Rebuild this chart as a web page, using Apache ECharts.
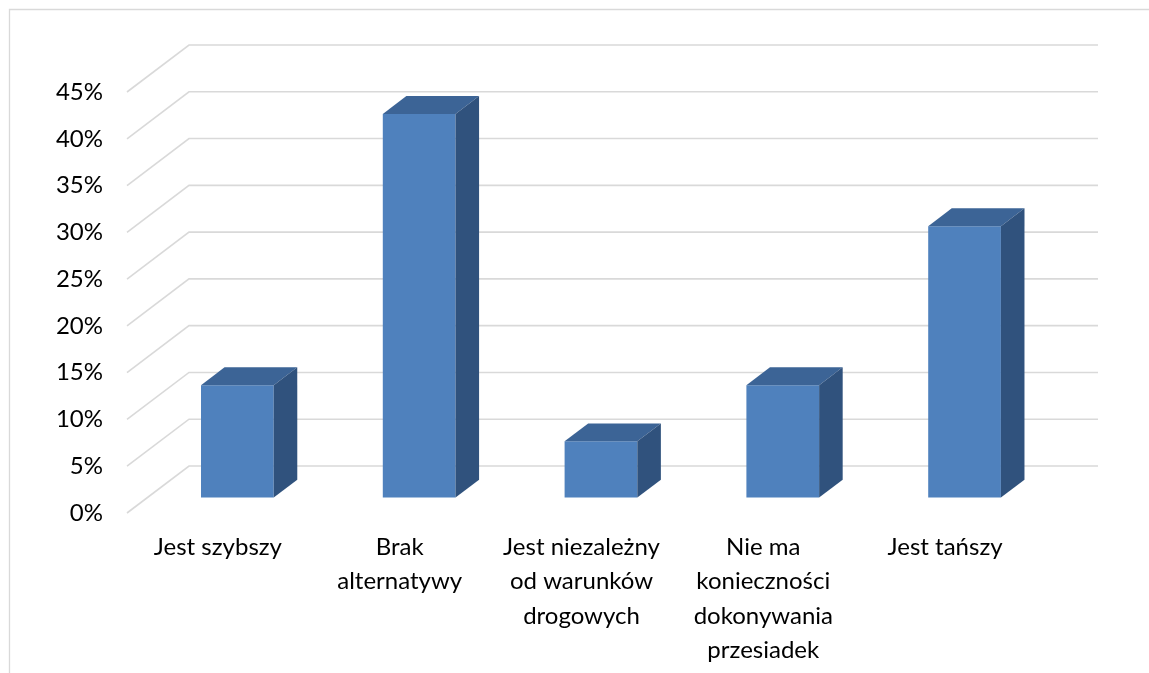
<!DOCTYPE html>
<html>
<head>
<meta charset="utf-8">
<script src="https://cdn.jsdelivr.net/npm/echarts@6/dist/echarts.min.js"></script>
<style>
  html, body { margin: 0; padding: 0; background: #fff; }
  #chart { width: 1149px; height: 673px; }
</style>
</head>
<body>
<div id="chart"></div>
<script>
// Categories and shares (percent)
const categories = [
  'Jest szybszy',
  'Brak\nalternatywy',
  'Jest niezależny\nod warunków\ndrogowych',
  'Nie ma\nkonieczności\ndokonywania\nprzesiadek',
  'Jest tańszy'
];
const values = [12, 41, 6, 12, 29];
const yTicks = [0, 5, 10, 15, 20, 25, 30, 35, 40, 45];

// Oblique projection of the depth axis (pixels for the full floor depth)
const DEPTH_X = 62;
const DEPTH_Y = 47;
const BAR_FRONT = 0.33;   // bar front face, fraction of depth
const BAR_BACK = 0.71;    // bar back face, fraction of depth
const BAR_WIDTH = 0.40;   // fraction of category band

const FONT = 'Lato, "Open Sans", sans-serif';

const chart = echarts.init(document.getElementById('chart'));

function renderWall(params, api) {
  const cs = params.coordSys;
  const y = api.coord([0, api.value(1)])[1];
  const x0 = cs.x;
  const x1 = cs.x + cs.width;
  return {
    type: 'polyline',
    shape: {
      points: [
        [x0, y],
        [x0 + DEPTH_X, y - DEPTH_Y],
        [x1 + DEPTH_X, y - DEPTH_Y]
      ]
    },
    style: { stroke: '#d9d9d9', lineWidth: 1.6, fill: null },
    silent: true
  };
}

function renderBar(params, api) {
  const idx = api.value(0);
  const val = api.value(1);
  const base = api.coord([idx, 0]);
  const top = api.coord([idx, val]);
  const bw = api.size([1, 0])[0] * BAR_WIDTH;
  const fx = DEPTH_X * BAR_FRONT, fy = -DEPTH_Y * BAR_FRONT;
  const bx = DEPTH_X * BAR_BACK, by = -DEPTH_Y * BAR_BACK;
  const xl = base[0] - bw / 2 - 1, xr = base[0] + bw / 2 - 1;
  const yb = base[1], yt = top[1];
  return {
    type: 'group',
    children: [
      {
        type: 'polygon',
        shape: { points: [[xl + fx, yb + fy], [xr + fx, yb + fy], [xr + fx, yt + fy], [xl + fx, yt + fy]] },
        style: { fill: '#4f81bd' }
      },
      {
        type: 'polygon',
        shape: { points: [[xl + fx, yt + fy], [xr + fx, yt + fy], [xr + bx, yt + by], [xl + bx, yt + by]] },
        style: { fill: '#3c6496' }
      },
      {
        type: 'polygon',
        shape: { points: [[xr + fx, yt + fy], [xr + bx, yt + by], [xr + bx, yb + by], [xr + fx, yb + fy]] },
        style: { fill: '#30527d' }
      }
    ]
  };
}

chart.setOption({
  backgroundColor: '#ffffff',
  animation: false,
  graphic: [{
    type: 'rect',
    shape: { x: 9.5, y: 9.5, width: 1200, height: 700 },
    style: { fill: null, stroke: '#d9d9d9', lineWidth: 1.3 },
    silent: true
  }],
  grid: { left: 127, right: 113, top: 92, bottom: 160 },
  xAxis: {
    type: 'category',
    data: categories,
    axisLine: { show: false },
    axisTick: { show: false },
    axisLabel: {
      interval: 0,
      margin: 17,
      color: '#000',
      fontFamily: FONT,
      fontSize: 24,
      lineHeight: 34.5
    }
  },
  yAxis: {
    type: 'value',
    min: 0,
    max: 45,
    interval: 5,
    axisLine: { show: false },
    axisTick: { show: false },
    splitLine: { show: false },
    axisLabel: {
      formatter: '{value}%',
      margin: 24,
      color: '#000',
      fontFamily: FONT,
      fontSize: 24
    }
  },
  series: [
    {
      type: 'custom',
      renderItem: renderWall,
      data: yTicks.map(v => [0, v]),
      silent: true,
      z: 1
    },
    {
      type: 'custom',
      renderItem: renderBar,
      data: values.map((v, i) => [i, v]),
      z: 2
    }
  ]
});
</script>
</body>
</html>
